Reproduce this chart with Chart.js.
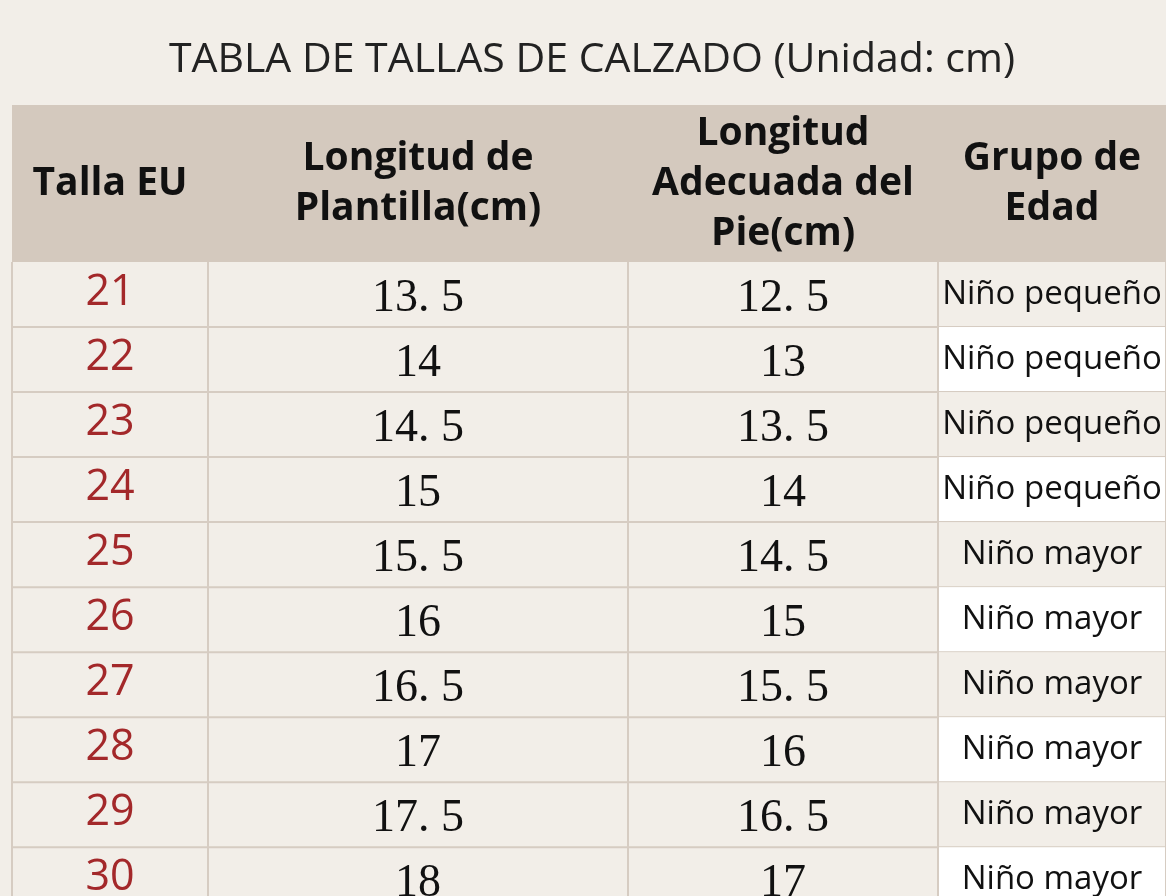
<!DOCTYPE html>
<html><head><meta charset="utf-8">
<script src="https://cdn.jsdelivr.net/npm/chart.js@4/dist/chart.umd.min.js"></script>
<style>html,body{margin:0;padding:0;background:#f2eee8;overflow:hidden}</style>
</head><body>
<canvas id="c" width="1166" height="896"></canvas>
<script>
const title = "TABLA DE TALLAS DE CALZADO (Unidad: cm)";
const headers = [["Talla EU"], ["Longitud de","Plantilla(cm)"], ["Longitud","Adecuada del","Pie(cm)"], ["Grupo de","Edad"]];
const tallaEU = [21,22,23,24,25,26,27,28,29,30];
const plantilla = [13.5,14,14.5,15,15.5,16,16.5,17,17.5,18];
const pie = [12.5,13,13.5,14,14.5,15,15.5,16,16.5,17];
const grupo = ["Niño pequeño","Niño pequeño","Niño pequeño","Niño pequeño","Niño mayor","Niño mayor","Niño mayor","Niño mayor","Niño mayor","Niño mayor"];

const colFrac = [0, 196/1154, 616/1154, 926/1154, 1];
const fmt = v => String(v).replace('.', '. ');

const tablePlugin = {
  id: 'table',
  beforeDraw(chart) {
    const ctx = chart.ctx, a = chart.chartArea, y = chart.scales.y;
    ctx.save();
    ctx.fillStyle = '#f2eee8'; ctx.fillRect(0,0,chart.width,chart.height);
    ctx.fillStyle = '#222'; ctx.font = '41px "Open Sans"'; ctx.textAlign='center'; ctx.textBaseline='middle';
    ctx.fillText(title, 592, 60);
    const W = a.right - a.left;
    const xs = colFrac.map(f => a.left + f*W);
    const rowH = Math.abs(y.getPixelForValue(1) - y.getPixelForValue(0));
    const hTop = 105, hBot = a.top;
    ctx.fillStyle = '#d4c9be'; ctx.fillRect(a.left, hTop, W, hBot - hTop);
    ctx.fillStyle = '#111'; ctx.font = 'bold 39px "Open Sans"';
    headers.forEach((lines, c) => {
      const cx = (xs[c]+xs[c+1])/2, cy = (hTop+hBot)/2;
      lines.forEach((t,i) => ctx.fillText(t, cx, cy + (i-(lines.length-1)/2)*50));
    });
    tallaEU.forEach((t, i) => {
      const cy = y.getPixelForValue(i), top = cy - rowH/2;
      ctx.fillStyle = i%2 ? '#ffffff' : '#f2eee8';
      ctx.fillRect(xs[3], top, xs[4]-xs[3], rowH);
      ctx.fillStyle = '#a3282a'; ctx.font = '43px "Open Sans"';
      ctx.fillText(String(t), (xs[0]+xs[1])/2, cy - 2);
      ctx.fillStyle = '#111'; ctx.font = '46px "Liberation Serif"';
      ctx.fillText(fmt(plantilla[i]), (xs[1]+xs[2])/2, cy + 4);
      ctx.fillText(fmt(pie[i]), (xs[2]+xs[3])/2, cy + 4);
      ctx.font = '33px "Open Sans"';
      ctx.fillText(grupo[i], (xs[3]+xs[4])/2, cy);
      ctx.strokeStyle = '#d6ccc2'; ctx.lineWidth = 2;
      ctx.beginPath(); ctx.moveTo(a.left, top + rowH); ctx.lineTo(a.right, top + rowH); ctx.stroke();
    });
    ctx.strokeStyle = '#d6ccc2'; ctx.lineWidth = 2;
    for (let c = 0; c < xs.length; c++) {
      ctx.beginPath(); ctx.moveTo(xs[c], hBot); ctx.lineTo(xs[c], a.bottom); ctx.stroke();
    }
    ctx.restore();
  }
};

new Chart(document.getElementById('c'), {
  type: 'scatter',
  data: { datasets: [{ data: tallaEU.map((t,i)=>({x:0,y:i})), pointRadius: 0 }] },
  options: {
    responsive: false, animation: false, devicePixelRatio: 1,
    layout: { padding: { top: 262, left: 12, right: 0, bottom: 0 } },
    plugins: { legend: { display: false }, tooltip: { enabled: false } },
    scales: {
      x: { display: false, min: 0, max: 1 },
      y: { display: false, reverse: true, min: -0.5, max: 9.25 }
    }
  },
  plugins: [tablePlugin]
});
</script>
</body></html>
